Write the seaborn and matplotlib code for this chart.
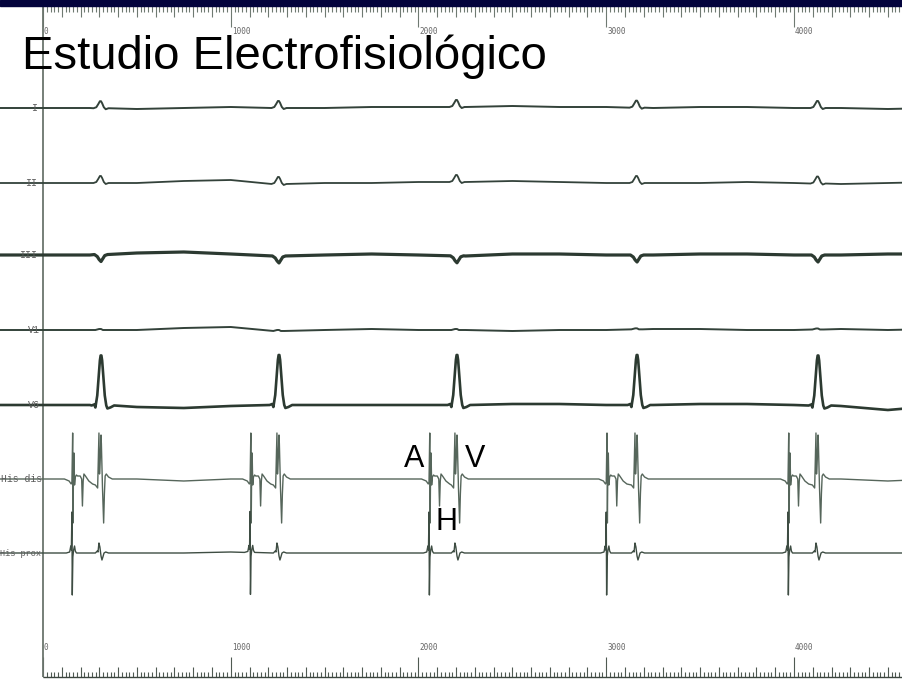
import numpy as np
import pandas as pd
import matplotlib
matplotlib.use("Agg")
import matplotlib.pyplot as plt
import seaborn as sns

# ---------------- data ----------------
title = "Estudio Electrofisiológico"
leads = ["I", "II", "III", "V1", "V6", "His dis", "His prox"]

# beat timing (ms)
a_times = [154, 1103, 2056, 3000, 3968]      # atrial (A) deflections
v_times = [309, 1257, 2205, 3164, 4128]      # ventricular (V) deflections

# baseline wander knots (ms) and offsets (px, up positive) per lead
wander_t = [-250, 0, 250, 500, 750, 1000, 1250, 1500, 1750, 2000, 2250,
            2500, 2750, 3000, 3250, 3500, 3750, 4000, 4250, 4500, 4750]
wander = {
    "I":        [0, 0, 0, -1, 0, 1, 0, 0, 1, 1, 1, 2, 1, 1, 0, 1, 1, 0, 0, -1, 0],
    "II":       [0, 0, 0, 0, 2, 3, -1, 0, 0, 1, 1, 2, 1, 0, 0, 0, 1, 0, -1, 0, 1],
    "III":      [0, 0, 0, 2, 3, 1, -1, 0, 1, 0, -1, 1, 1, 0, 0, 1, 1, 0, 0, 1, 1],
    "V1":       [0, 0, 0, 0, 2, 3, -1, 0, 1, 0, 0, -1, 0, 0, 1, 1, 0, 0, 1, 0, 1],
    "V6":       [0, 0, 0, -2, -3, -1, 0, 0, 0, 0, 0, 1, 1, 0, 0, 1, 1, 0, -1, -5, -1],
    "His dis":  [0, 0, 0, 0, -2, 0, 0, 0, 0, 0, 0, 0, 0, 0, 0, 0, 0, 0, 0, -2, 0],
    "His prox": [0, 0, 0, 0, 0, 1, 0, 0, 0, 0, 0, 0, 0, 0, 0, 0, 0, 0, 0, 0, 0],
}

# waveform shapes: offsets (ms) from the beat, amplitudes (px, up positive)
surf_I_off = [-40, -25, -15, -6, 0, 6, 15, 25, 40]
surf_I_amp = [0, 1, 4, 7, 7, 5, 1, -1, 0]
surf_II_off = [-40, -25, -15, -6, 0, 6, 15, 25, 40]
surf_II_amp = [0, 1, 4, 7, 7, 5, 1, -1, 0]
surf_III_off = [-35, -20, -10, 0, 10, 20, 35]
surf_III_amp = [0, -2, -5, -7, -4, -1, 0]
surf_V1_off = [-30, -10, 0, 10, 30]
surf_V1_amp = [0, 1, 1, 0, 0]
surf_V6_off = [-50, -36, -30, -20, -12, -6, -2, 2, 6, 12, 20, 28, 34, 50, 70]
surf_V6_amp = [0, 1, -2, 10, 30, 45, 50, 50, 45, 30, 10, 0, -3, -2, 0]

hisd_A_off = [-40, -15, -4, 0, 4, 6, 8, 11, 14, 18, 24, 30, 44, 52, 56, 60, 64, 72, 90, 110]
hisd_A_amp = [0, -2, -5, -3, 46, -44, 0, 26, -6, 2, 4, 3, 3, 0, -27, -2, 5, 3, -2, -5]
hisd_V_off = [-30, -18, -11, -8, -4, 0, 2, 8, 14, 18, 22, 28, 40, 60]
hisd_V_amp = [-6, -9, 46, 5, 20, 44, 35, -10, -44, -15, 3, 5, 2, 0]

hisp_A_off = [-30, -12, -6, -3, 0, 2, 5, 9, 14, 18, 24]
hisp_A_amp = [0, 1, 7, 3, 41, -42, -4, 3, 7, 2, 0]
hisp_V_off = [-30, -20, -16, -11, -6, 0, 5, 10, 16, 25, 40]
hisp_V_amp = [0, 2, 1, 10, 6, -3, -7, -4, 0, 1, 0]

ruler_labels = ["0", "1000", "2000", "3000", "4000"]
ruler_label_ms = [0, 1000, 2000, 3000, 4000]

# ---------------- layout helpers ----------------
W, H = 903, 680
X0 = 43.0          # pixel of t = 0 ms
PX_PER_MS = 0.18775


def xms(px):
    return (px - X0) / PX_PER_MS


lead_base_px = {"I": 108, "II": 183, "III": 255, "V1": 330, "V6": 405,
                "His dis": 479, "His prox": 553}
label_right_px = {"I": 37, "II": 37, "III": 37, "V1": 40, "V6": 40,
                  "His dis": 42, "His prox": 41}
label_size = {"I": 7.2, "II": 7.2, "III": 7.2, "V1": 7.2, "V6": 7.2,
              "His dis": 7.0, "His prox": 6.2}


def build(lead, events):
    wv = wander[lead]
    windows = [(t + off[0], t + off[-1]) for t, off, _ in events]
    pts = []
    for kt, kv in zip(wander_t, wv):
        if not any(lo <= kt <= hi for lo, hi in windows):
            pts.append((kt, kv))
    for t, off, amp in events:
        b = float(np.interp(t, wander_t, wv))
        for o, a in zip(off, amp):
            pts.append((t + o, b + a))
    pts.sort()
    df = pd.DataFrame(pts, columns=["t", "v"])
    df["y"] = lead_base_px[lead] - df["v"]
    return df


events = {
    "I": [(t, surf_I_off, surf_I_amp) for t in v_times],
    "II": [(t, surf_II_off, surf_II_amp) for t in v_times],
    "III": [(t, surf_III_off, surf_III_amp) for t in v_times],
    "V1": [(t, surf_V1_off, surf_V1_amp) for t in v_times],
    "V6": [(t, surf_V6_off, surf_V6_amp) for t in v_times],
    "His dis": [(t, hisd_A_off, hisd_A_amp) for t in a_times]
               + [(t, hisd_V_off, hisd_V_amp) for t in v_times],
    "His prox": [(t, hisp_A_off, hisp_A_amp) for t in a_times]
                + [(t, hisp_V_off, hisp_V_amp) for t in v_times],
}

styles = {
    "I": ("#33423a", 1.4), "II": ("#33423a", 1.3), "III": ("#2c3a31", 2.3),
    "V1": ("#33423a", 1.4), "V6": ("#2c3a31", 1.9),
    "His dis": ("#56665b", 1.0), "His prox": ("#3e4d43", 1.0),
}

# ---------------- drawing ----------------
sns.set_theme(style="white")
plt.rcParams["font.family"] = ["Liberation Sans", "DejaVu Sans"]

fig = plt.figure(figsize=(W / 100, H / 100), dpi=100)
ax = fig.add_axes([0, 0, 1, 1])
fig.patch.set_facecolor("white")

# navy top band
ax.axhspan(0, 6, color="#03033c", zorder=5)

# rulers
ticks = np.arange(0, 4600, 20)
for t in ticks:
    if t % 1000 == 0:
        top_end, bot_start = 27, 657
    elif t % 100 == 0:
        top_end, bot_start = 17, 667
    else:
        top_end, bot_start = 12, 672
    ax.vlines(t, 6, top_end, color="#6f7a72", lw=0.8)
    ax.vlines(t, bot_start, 677, color="#4f5a52", lw=0.8)
ax.hlines(677, 0, xms(W), color="#3c463f", lw=1.0)
ax.vlines(0, 6, 677, color="#6b756d", lw=1.3)

for lab, t in zip(ruler_labels, ruler_label_ms):
    ax.text(t + 5, 31, lab, fontsize=5.5, color="#666666", ha="left",
            va="center", family="DejaVu Sans Mono")
    ax.text(t + 5, 648, lab, fontsize=5.5, color="#666666", ha="left",
            va="center", family="DejaVu Sans Mono")

# traces
for lead in leads:
    df = build(lead, events[lead])
    col, lw = styles[lead]
    sns.lineplot(data=df, x="t", y="y", ax=ax, color=col, linewidth=lw,
                 estimator=None, sort=False, legend=False)
    ax.text(xms(label_right_px[lead]), lead_base_px[lead], lead,
            fontsize=label_size[lead], color="#5a5a5a", ha="right",
            va="center", family="Liberation Mono")

ax.set_xlim(xms(0), xms(W))
ax.set_ylim(H, 0)
ax.axis("off")

# title and annotations
ax.text(xms(22), 69, title, fontsize=34, color="black", ha="left",
        va="baseline", zorder=6)
ax.text(xms(404), 467, "A", fontsize=22, color="black", ha="left", va="baseline", zorder=6)
ax.text(xms(465), 467, "V", fontsize=22, color="black", ha="left", va="baseline", zorder=6)
ax.text(xms(436), 530, "H", fontsize=22, color="black", ha="left", va="baseline", zorder=6)

fig.savefig("out.png", dpi=100, facecolor="white")
